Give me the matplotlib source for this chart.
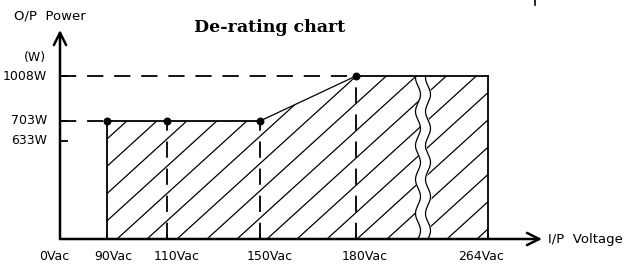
import numpy as np
import matplotlib.pyplot as plt
from matplotlib.patches import Polygon

# de-rating curve (input voltage -> output power)
volts = [90, 110, 150, 180, 264]
watts = [703, 703, 703, 1008, 1008]
x_labels = ["0Vac", "90Vac", "110Vac", "150Vac", "180Vac", "264Vac"]
y_ticks = [1008, 703, 633]
y_labels = ["1008W", "703W", "633W"]

# schematic (not to scale) positions of the marks on each axis
xpos = {0: 0, 90: 47, 110: 107, 150: 200, 180: 296, 264: 428}
ypos = {0: 0, 633: 98, 703: 118, 1008: 163}
xlab_shift = {0: -6, 90: 6, 110: 10, 150: 10, 180: 9, 264: -7}

lab_font = ["Liberation Sans Narrow", "DejaVu Sans"]

fig = plt.figure(figsize=(6.26, 2.68), dpi=100)
ax = fig.add_axes([0, 0, 1, 1])
ax.set_xlim(-60, 566)
ax.set_ylim(-29, 239)
ax.axis("off")

X = [xpos[v] for v in volts]
Y = [ypos[w] for w in watts]

# shaded region
poly = [(X[0], 0)] + list(zip(X, Y)) + [(X[-1], 0)]
clip = Polygon(poly, closed=True, fill=False, edgecolor="none")
ax.add_patch(clip)
for c in np.arange(57 - 30 * 8, 500, 30):
    ln, = ax.plot([c, c + 1.1 * 180], [0, 180], color="black", lw=0.9)
    ln.set_clip_path(clip)

# break marks
yy = np.linspace(0, Y[-1], 200)
wave = 2.5 * np.sin(yy / 34 * 2 * np.pi)
xb1, xb2 = 358, 368
ax.fill_betweenx(yy, xb1 + wave, xb2 + wave, color="white", zorder=2)
ax.plot(xb1 + wave, yy, color="black", lw=0.9, zorder=3)
ax.plot(xb2 + wave, yy, color="black", lw=0.9, zorder=3)

# outline
ax.plot([X[0], X[0]], [0, Y[0]], color="black", lw=1.3, zorder=4)
ax.plot(X[:3], Y[:3], color="black", lw=1.3, zorder=4)
ax.plot(X[2:4], Y[2:4], color="black", lw=0.9, zorder=4)
ax.plot(X[3:], Y[3:], color="black", lw=1.3, zorder=4)
ax.plot([X[-1], X[-1]], [0, Y[-1]], color="black", lw=1.3, zorder=4)

# dashed guide lines
dash = dict(color="black", lw=1.3, dashes=(9, 6), zorder=4)
ax.plot([0, X[3]], [Y[3], Y[3]], **dash)
ax.plot([0, X[0]], [Y[0], Y[0]], **dash)
for i in (1, 2, 3):
    ax.plot([X[i], X[i]], [0, Y[i]], **dash)

ax.scatter(X[:4], Y[:4], s=22, color="black", zorder=5)

# axes with open arrow heads
arrow = dict(arrowstyle="->", lw=1.8, color="black", mutation_scale=22,
             shrinkA=0, shrinkB=0)
ax.annotate("", xy=(482, 0), xytext=(0, 0), arrowprops=arrow, zorder=6)
ax.annotate("", xy=(0, 209), xytext=(0, 0), arrowprops=arrow, zorder=6)

# ticks and labels
for w, lab in zip(y_ticks, y_labels):
    ax.plot([0, 7], [ypos[w], ypos[w]], color="black", lw=1.3)
    ax.text(-13, ypos[w], lab, ha="right", va="center", fontsize=9, family=lab_font)
for v, lab in zip([0] + volts, x_labels):
    if v:
        ax.plot([xpos[v], xpos[v]], [0, 4], color="black", lw=1.3)
    ax.text(xpos[v] + xlab_shift[v], -17, lab, ha="center", va="center",
            fontsize=9, family=lab_font)

ax.text(-25, 182, "(W)", ha="center", va="center", fontsize=9, family=lab_font)
ax.text(-46, 223, "O/P  Power", ha="left", va="center", fontsize=9.5, family=lab_font)
ax.text(488, 0, "I/P  Voltage", ha="left", va="center", fontsize=9.5, family=lab_font)
ax.text(210, 211, "De-rating chart", ha="center", va="center", fontsize=12.5,
        family="DejaVu Serif", weight="bold")
ax.plot([475, 475], [239, 234], color="black", lw=1.2)

fig.savefig("out.png", dpi=100)
